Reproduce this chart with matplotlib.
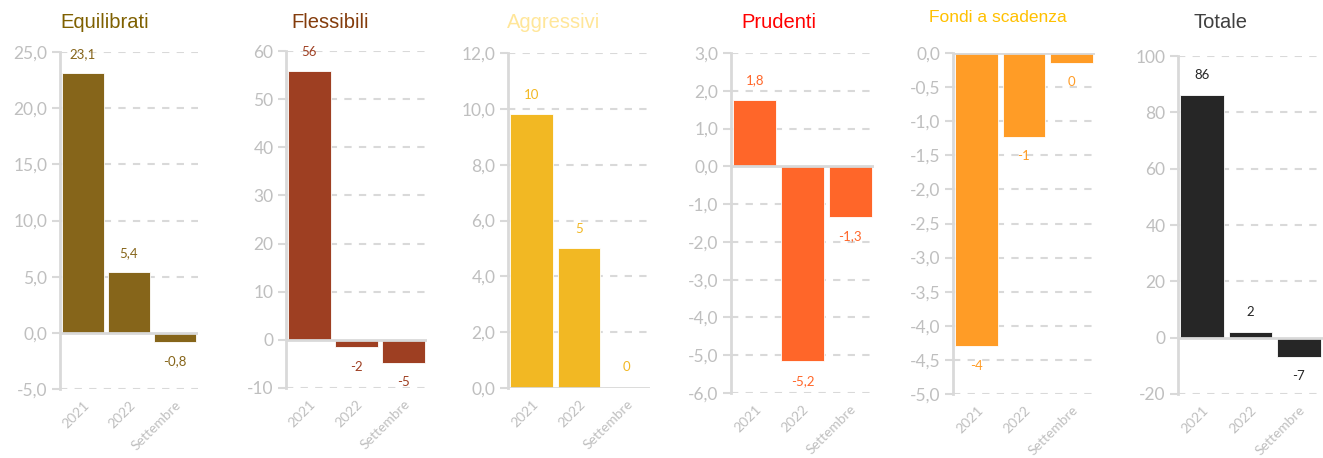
import matplotlib
matplotlib.use("Agg")
import matplotlib.pyplot as plt
import numpy as np

categories = ["2021", "2022", "Settembre"]

titles = ["Equilibrati", "Flessibili", "Aggressivi", "Prudenti", "Fondi a scadenza", "Totale"]

equilibrati = [23.1, 5.4, -0.8]
flessibili = [55.8, -1.5, -4.8]
aggressivi = [9.8, 5.0, 0.05]
prudenti = [1.76, -5.16, -1.33]
fondi_scadenza = [-4.3, -1.23, -0.14]
totale = [86.2, 2.1, -6.7]

series = [equilibrati, flessibili, aggressivi, prudenti, fondi_scadenza, totale]

# y range (min, max, step), decimals on axis, decimals on labels
y_ranges = [(-5, 25, 5), (-10, 60, 10), (0, 12, 2), (-6, 3, 1), (-5, 0, 0.5), (-20, 100, 20)]
axis_dec = [1, 0, 1, 1, 1, 0]
label_dec = [1, 0, 0, 1, 0, 0]

bar_colors = ["#86651A", "#9E3F22", "#F2B823", "#FF6629", "#FF9C26", "#262626"]
title_colors = ["#7F6000", "#843C0C", "#FFE699", "#FF0000", "#FFC000", "#404040"]
title_sizes = [14.5, 14.5, 14.5, 14.5, 12.5, 14.5]

# panel boxes in pixels: left, right, top, bottom
boxes = [(60, 198, 52, 389), (286, 427, 51, 388), (508, 650, 53, 388),
         (731, 874, 53, 393), (953, 1095, 53, 394), (1178, 1323, 56, 394)]
title_pos = [(105, 22), (330, 22), (554, 23), (779, 23), (998, 17), (1221, 22)]

W, H = 1323, 458
GRID = "#D9D9D9"
TICK = "#BFBFBF"
NUM_FONT = ["Lato", "DejaVu Sans"]


def fmt(v, dec):
    s = f"{v:.{dec}f}"
    if s.startswith("-") and float(s) == 0:
        s = s[1:]
    return s.replace(".", ",")


fig = plt.figure(figsize=(W / 100, H / 100), dpi=100)

for i, vals in enumerate(series):
    l, r, t, b = boxes[i]
    ax = fig.add_axes([l / W, 1 - b / H, (r - l) / W, (b - t) / H])
    x = np.arange(len(categories))
    ax.bar(x, vals, width=0.9, color=bar_colors[i], edgecolor="white", linewidth=0.6, zorder=3)

    lo, hi, step = y_ranges[i]
    ax.set_ylim(lo, hi)
    ax.set_xlim(-0.5, 2.5)
    ticks = np.arange(lo, hi + step / 2, step)
    ax.set_yticks(ticks)
    ax.set_yticklabels([fmt(v, axis_dec[i]) for v in ticks], color=TICK, fontsize=12.5, family=NUM_FONT)
    ax.set_xticks(x)
    ax.set_xticklabels(categories, rotation=45, ha="right", va="top", rotation_mode="anchor",
                       color=TICK, fontsize=10, family=NUM_FONT)

    for tk in ticks:
        if tk != 0:
            ax.axhline(tk, color=GRID, lw=1.5, ls=(0, (3.5, 3.5)), zorder=1)
    ax.axhline(0, color=GRID, lw=2, zorder=4)

    for s in ["top", "right", "bottom"]:
        ax.spines[s].set_visible(False)
    ax.spines["left"].set_color(GRID)
    ax.spines["left"].set_linewidth(2)
    ax.tick_params(axis="y", length=6, width=1.5, color=GRID, pad=3)
    ax.tick_params(axis="x", length=0, pad=7)

    for xi, v in zip(x, vals):
        off = 14 if v >= 0 else -14
        ax.annotate(fmt(v, label_dec[i]), (xi, v), xytext=(0, off), textcoords="offset points",
                    ha="center", va="center", fontsize=9.5, color=bar_colors[i],
                    family=NUM_FONT, annotation_clip=False)

    tx, ty = title_pos[i]
    fig.text(tx / W, 1 - ty / H, titles[i], ha="center", va="center", fontsize=title_sizes[i],
             color=title_colors[i], family=["Liberation Sans", "DejaVu Sans"])

fig.savefig("out.png", dpi=100)
